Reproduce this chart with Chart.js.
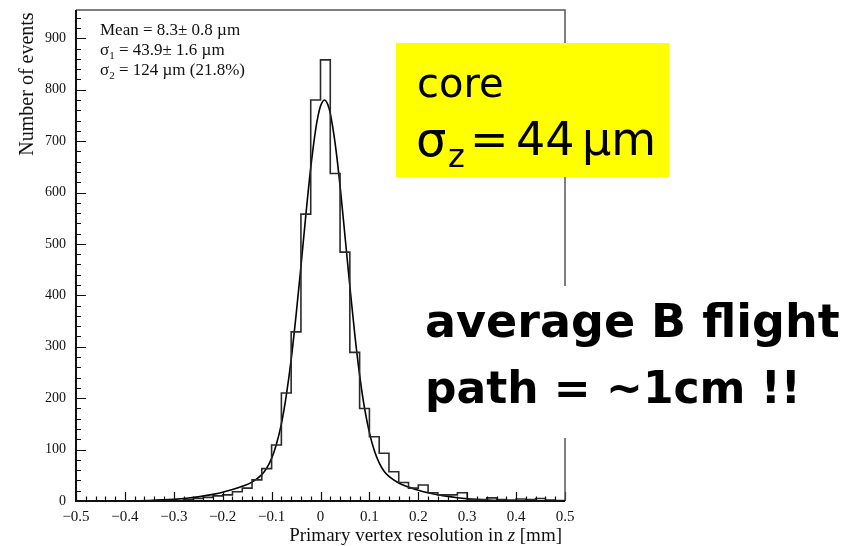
<!DOCTYPE html>
<html>
<head>
<meta charset="utf-8">
<title>Primary vertex resolution</title>
<script src="https://cdn.jsdelivr.net/npm/chart.js@4/dist/chart.umd.min.js"></script>
<style>
  html, body { margin: 0; padding: 0; background: #fff; }
  #wrap { width: 863px; height: 546px; }
</style>
</head>
<body>
<div id="wrap"><canvas id="vtx" width="863" height="546"></canvas></div>
<script>
// histogram: bin edges [mm] and entries per bin
const binEdges = [
  -0.50, -0.48, -0.46, -0.44, -0.42, -0.40, -0.38, -0.36, -0.34, -0.32,
  -0.30, -0.28, -0.26, -0.24, -0.22, -0.20, -0.18, -0.16, -0.14, -0.12,
  -0.10, -0.08, -0.06, -0.04, -0.02, 0.00, 0.02, 0.04, 0.06, 0.08,
  0.10, 0.12, 0.14, 0.16, 0.18, 0.20, 0.22, 0.24, 0.26, 0.28,
  0.30, 0.32, 0.34, 0.36, 0.38, 0.40, 0.42, 0.44, 0.46, 0.48, 0.50
];
const binCounts = [
  0, 0, 0, 0, 0, 0, 0, 0, 0, 1,
  1, 3, 5, 7, 10, 12, 18, 25, 41, 63,
  109, 210, 329, 558, 780, 858, 637, 484, 289, 180,
  125, 93, 57, 36, 25, 31, 16, 12, 12, 16,
  3, 3, 6, 3, 2, 4, 3, 5, 2, 1
];

// double gaussian fit curve
const fitX = [
  -0.50, -0.45, -0.40, -0.35, -0.30, -0.27, -0.25, -0.22, -0.20, -0.18,
  -0.16, -0.14, -0.12, -0.11, -0.10, -0.09, -0.08, -0.07, -0.06, -0.05,
  -0.04, -0.03, -0.02, -0.01, -0.005, 0.00, 0.008, 0.015, 0.02, 0.03,
  0.04, 0.05, 0.06, 0.07, 0.08, 0.09, 0.10, 0.11, 0.12, 0.13,
  0.14, 0.16, 0.18, 0.20, 0.22, 0.25, 0.28, 0.30, 0.35, 0.40, 0.45, 0.50
];
const fitY = [
  0, 0.1, 0.3, 1.1, 3.2, 5.7, 8.0, 12.9, 17.2, 22.3,
  28.5, 36.8, 51.4, 64, 83, 111, 150, 205, 275, 361,
  456, 556, 648, 722, 749, 768, 780, 771, 754, 695,
  613, 516, 418, 325, 245, 181, 133, 98, 74, 58,
  48, 35, 27, 21, 16, 10.4, 6.3, 4.4, 1.6, 0.5, 0.1, 0
];

const xTickValues = [-0.5, -0.4, -0.3, -0.2, -0.1, 0, 0.1, 0.2, 0.3, 0.4, 0.5];
const xTickLabels = ["\u22120.5", "\u22120.4", "\u22120.3", "\u22120.2", "\u22120.1", "0", "0.1", "0.2", "0.3", "0.4", "0.5"];
const yTickValues = [0, 100, 200, 300, 400, 500, 600, 700, 800, 900];
const yTickLabels = ["0", "100", "200", "300", "400", "500", "600", "700", "800", "900"];

const serif = '"Liberation Serif", "Times New Roman", serif';
const comic = '"Comic Sans MS", "DejaVu Sans", sans-serif';

// step outline of the histogram
const histPoints = [];
binCounts.forEach((n, i) => {
  histPoints.push({ x: binEdges[i], y: n });
  histPoints.push({ x: binEdges[i + 1], y: n });
});

// draws "σ" followed by a subscript and the rest of the line
function drawSigmaLine(ctx, x, y, size, sub, rest, subScale, subDrop) {
  ctx.font = size + 'px ' + serif;
  ctx.fillText('\u03c3', x, y);
  let cx = x + ctx.measureText('\u03c3').width;
  ctx.font = Math.round(size * subScale) + 'px ' + serif;
  ctx.fillText(sub, cx, y + subDrop);
  cx += ctx.measureText(sub).width;
  ctx.font = size + 'px ' + serif;
  ctx.fillText(rest, cx, y);
}

// ROOT style frame with inward ticks, axis titles and fit box
const rootFrame = {
  id: 'rootFrame',
  afterDatasetsDraw(chart) {
    const { ctx, chartArea: a, scales: { x, y } } = chart;
    ctx.save();

    ctx.strokeStyle = '#111';
    ctx.lineWidth = 1.2;
    ctx.beginPath();
    for (let v = 0; v <= 940; v += 20) {
      const py = Math.round(y.getPixelForValue(v)) + 0.5;
      const len = v % 100 === 0 ? 10 : 5;
      ctx.moveTo(a.left, py);
      ctx.lineTo(a.left + len, py);
    }
    for (let i = -25; i <= 25; i++) {
      const px = Math.round(x.getPixelForValue(i * 0.02)) + 0.5;
      const len = i % 5 === 0 ? 9 : 4.5;
      ctx.moveTo(px, a.bottom);
      ctx.lineTo(px, a.bottom - len);
    }
    ctx.stroke();

    // top and right border in grey, axes in black
    ctx.strokeStyle = '#555';
    ctx.lineWidth = 1.5;
    ctx.beginPath();
    ctx.moveTo(a.left, a.top);
    ctx.lineTo(a.right, a.top);
    ctx.lineTo(a.right, a.bottom);
    ctx.stroke();
    ctx.strokeStyle = '#111';
    ctx.lineWidth = 2;
    ctx.beginPath();
    ctx.moveTo(a.left, a.top);
    ctx.lineTo(a.left, a.bottom);
    ctx.lineTo(a.right, a.bottom);
    ctx.stroke();

    ctx.fillStyle = '#111';
    ctx.textBaseline = 'alphabetic';

    // y axis title
    ctx.save();
    ctx.translate(33, 84);
    ctx.rotate(-Math.PI / 2);
    ctx.textAlign = 'center';
    ctx.font = '20px ' + serif;
    ctx.fillText('Number of events', 0, 0);
    ctx.restore();

    // x axis title, right aligned to the end of the axis
    ctx.textAlign = 'left';
    const p1 = 'Primary vertex resolution in ', p2 = 'z', p3 = ' [mm]';
    ctx.font = '19px ' + serif;
    const w1 = ctx.measureText(p1).width, w3 = ctx.measureText(p3).width;
    ctx.font = 'italic 19px ' + serif;
    const w2 = ctx.measureText(p2).width;
    let tx = a.right - 3 - (w1 + w2 + w3);
    ctx.font = '19px ' + serif;
    ctx.fillText(p1, tx, 541);
    ctx.font = 'italic 19px ' + serif;
    ctx.fillText(p2, tx + w1, 541);
    ctx.font = '19px ' + serif;
    ctx.fillText(p3, tx + w1 + w2, 541);

    // fit results
    ctx.font = '17px ' + serif;
    ctx.fillText('Mean = 8.3\u00b1 0.8 \u00b5m', 100, 35);
    drawSigmaLine(ctx, 100, 55, 17, '1', ' = 43.9\u00b1 1.6 \u00b5m', 0.65, 4);
    drawSigmaLine(ctx, 100, 75, 17, '2', ' = 124 \u00b5m (21.8%)', 0.65, 4);

    ctx.restore();
  },
  afterDraw(chart) {
    const { ctx } = chart;
    ctx.save();

    // yellow note on the core width
    ctx.fillStyle = '#ffff00';
    ctx.fillRect(396, 43, 273, 134);
    ctx.fillStyle = '#000';
    ctx.textBaseline = 'alphabetic';
    ctx.textAlign = 'left';
    ctx.font = '40px ' + comic;
    ctx.fillText('core', 417, 97);
    ctx.font = '48px ' + comic;
    ctx.fillText('\u03c3', 416, 156);
    ctx.font = '32px ' + comic;
    ctx.fillText('z', 448, 167);
    ctx.font = '46px ' + comic;
    ctx.fillText('=', 470, 155);
    ctx.fillText('44', 516, 155);
    ctx.fillText('\u00b5m', 582, 155);

    // flight path remark on a white patch
    ctx.fillStyle = '#fff';
    ctx.fillRect(414, 286, 440, 152);
    ctx.fillStyle = '#000';
    ctx.font = 'bold 46px ' + comic;
    ctx.fillText('average B flight', 425, 337);
    ctx.font = 'bold 44px ' + comic;
    ctx.fillText('path = ~1cm !!', 425, 403);

    ctx.restore();
  }
};

new Chart(document.getElementById('vtx'), {
  type: 'line',
  data: {
    datasets: [
      {
        label: 'histogram',
        data: histPoints,
        borderColor: '#2a2a2a',
        borderWidth: 1.6,
        pointRadius: 0,
        fill: false,
        tension: 0
      },
      {
        label: 'fit',
        data: fitX.map((v, i) => ({ x: v, y: fitY[i] })),
        borderColor: '#000',
        borderWidth: 1.6,
        pointRadius: 0,
        fill: false,
        cubicInterpolationMode: 'monotone'
      }
    ]
  },
  options: {
    responsive: false,
    animation: false,
    devicePixelRatio: 1,
    layout: { padding: { left: 0, top: 10, right: 298, bottom: 0 } },
    plugins: { legend: { display: false }, tooltip: { enabled: false } },
    scales: {
      x: {
        type: 'linear',
        min: -0.5,
        max: 0.5,
        grid: { display: false, drawTicks: false },
        border: { display: false },
        afterBuildTicks: s => { s.ticks = xTickValues.map(v => ({ value: v })); },
        afterFit: s => { s.height = 45; s.paddingLeft = 0; s.paddingRight = 0; },
        ticks: {
          autoSkip: false,
          maxRotation: 0,
          padding: 7,
          color: '#111',
          font: { family: serif, size: 15 },
          callback: (v, i) => xTickLabels[i]
        }
      },
      y: {
        type: 'linear',
        min: 0,
        max: 955,
        grid: { display: false, drawTicks: false },
        border: { display: false },
        afterBuildTicks: s => { s.ticks = yTickValues.map(v => ({ value: v })); },
        afterFit: s => { s.width = 76; s.paddingTop = 0; s.paddingBottom = 0; },
        ticks: {
          padding: 10,
          color: '#111',
          font: { family: serif, size: 14 },
          callback: (v, i) => yTickLabels[i]
        }
      }
    }
  },
  plugins: [rootFrame]
});
</script>
</body>
</html>
